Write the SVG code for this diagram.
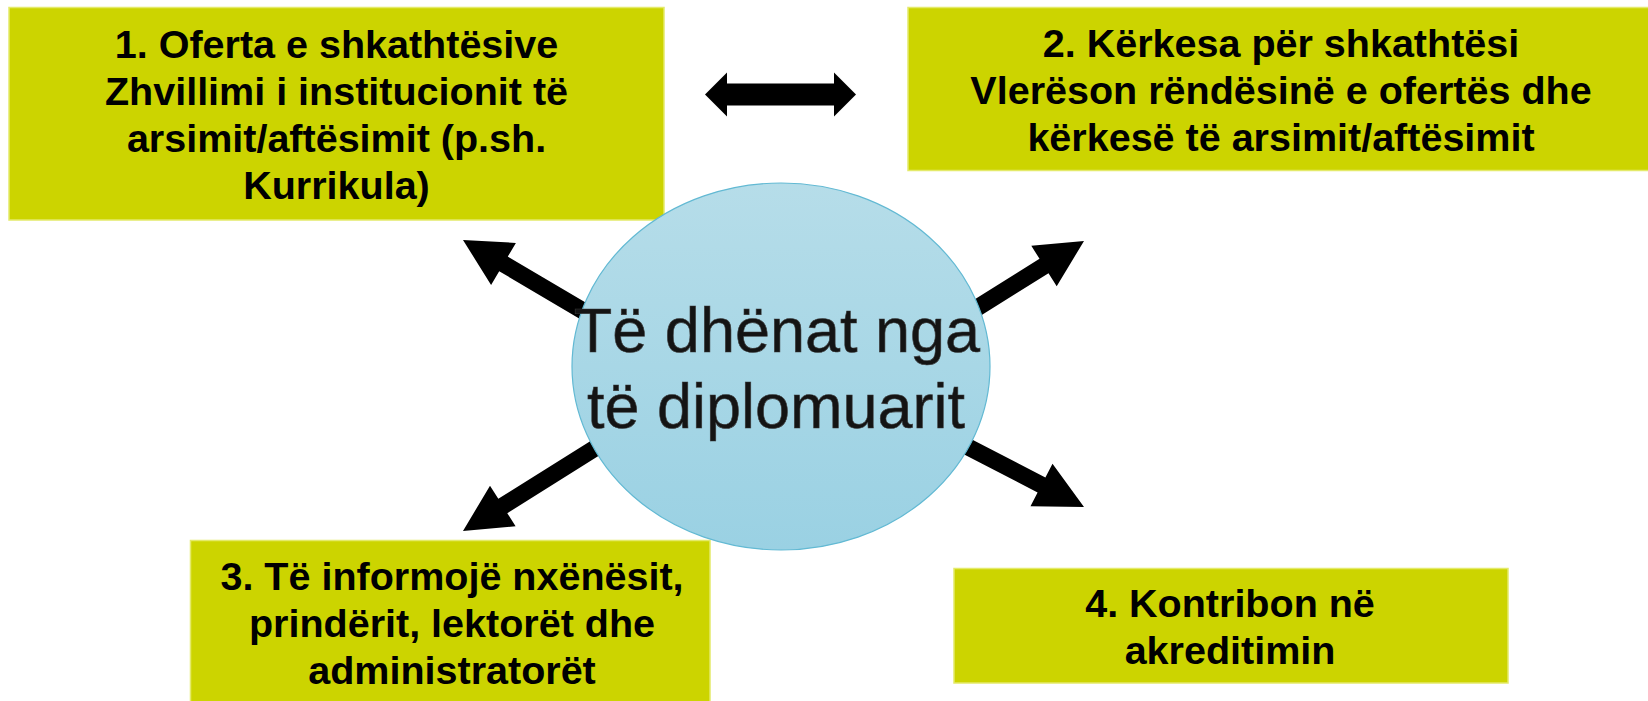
<svg xmlns="http://www.w3.org/2000/svg" width="1648" height="701" viewBox="0 0 1648 701">
  <defs>
    <linearGradient id="ellGrad" x1="0" y1="0" x2="0" y2="1">
      <stop offset="0" stop-color="#B6DDE9"/>
      <stop offset="1" stop-color="#9AD1E3"/>
    </linearGradient>
  </defs>
  <style>
    .box { fill: #CCD400; stroke: #E4EA6A; stroke-width: 1.5; }
    .lbl { font-family: "Liberation Sans", Arial, sans-serif; font-weight: bold; font-size: 39.5px; fill: #000; text-anchor: middle; }
    .ctr { font-family: "Liberation Sans", Arial, sans-serif; font-size: 63px; fill: #141414; text-anchor: middle; stroke: #3a3a3a; stroke-width: 0.6; }
    .arr { fill: #000; }
  </style>
  <rect width="1648" height="701" fill="#FFFFFF"/>

  <g id="node-1">
    <rect class="box" x="9" y="7.5" width="655" height="212.5"/>
    <text class="lbl" x="336.5" y="58">1. Oferta e shkathtësive</text>
    <text class="lbl" x="336.5" y="105">Zhvillimi i institucionit të</text>
    <text class="lbl" x="336.5" y="152">arsimit/aftësimit (p.sh.</text>
    <text class="lbl" x="336.5" y="199">Kurrikula)</text>
  </g>

  <g id="node-2">
    <rect class="box" x="908" y="7.5" width="745" height="163"/>
    <text class="lbl" x="1281" y="57">2. Kërkesa për shkathtësi</text>
    <text class="lbl" x="1281" y="104">Vlerëson rëndësinë e ofertës dhe</text>
    <text class="lbl" x="1281" y="151">kërkesë të arsimit/aftësimit</text>
  </g>

  <g id="node-3">
    <rect class="box" x="190.5" y="540.5" width="519.5" height="165"/>
    <text class="lbl" x="452" y="589.5">3. Të informojë nxënësit,</text>
    <text class="lbl" x="452" y="636.5">prindërit, lektorët dhe</text>
    <text class="lbl" x="452" y="683.5">administratorët</text>
  </g>

  <g id="node-4">
    <rect class="box" x="954" y="568.5" width="554" height="114.5"/>
    <text class="lbl" x="1230" y="616.5">4. Kontribon në</text>
    <text class="lbl" x="1230" y="664">akreditimin</text>
  </g>

  <g id="connectors">
    <polygon class="arr" points="705,94.5 727,72.5 727,83.5 834,83.5 834,72.5 856,94.5 834,116.5 834,105.5 727,105.5 727,116.5"/>
    <polygon class="arr" points="463,240 515.9,242.9 507.8,256.6 605.1,314.1 596.5,328.7 499.2,271.2 491.1,284.9"/>
    <polygon class="arr" points="463,531 490,485.7 498.3,498.8 602.5,433.4 611.5,447.8 507.3,513.2 515.6,526.3"/>
    <polygon class="arr" points="1084,241 1056.7,286.3 1048.5,273.2 940.3,341 931.3,326.5 1039.5,258.8 1031.3,245.7"/>
    <polygon class="arr" points="1084,507 1052.5,463.7 1045.4,477.5 937.1,421.5 929.3,436.5 1037.6,492.5 1030.5,506.3"/>
  </g>

  <g id="node-center">
    <ellipse cx="781" cy="366.5" rx="209" ry="183.5" fill="url(#ellGrad)" stroke="#62B9D3" stroke-width="1.2"/>
    <text class="ctr" x="777" y="352">Të dhënat nga</text>
    <text class="ctr" x="776" y="428">të diplomuarit</text>
  </g>
</svg>
